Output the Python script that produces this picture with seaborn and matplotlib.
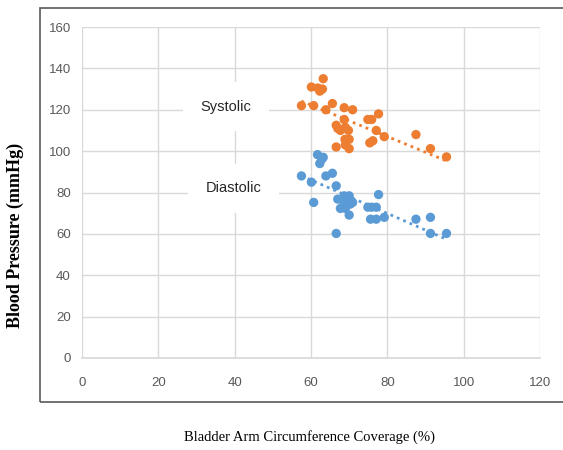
import numpy as np
import pandas as pd
import matplotlib
matplotlib.use("Agg")
import matplotlib.pyplot as plt
import seaborn as sns
from matplotlib.patches import Rectangle

sys_x = [57.5, 60.1, 60.7, 61.8, 62.3, 63.0, 63.2, 63.9, 65.6, 66.6, 67.0, 66.6, 67.7, 68.7, 68.7,
         69.0, 68.9, 69.0, 69.8, 70.0, 70.0, 70.9, 74.9, 75.9, 75.4, 76.2, 77.1, 77.7, 79.2, 87.5, 91.3, 95.5]
sys_y = [122, 131, 122, 130.5, 129, 130, 135, 120, 123, 112.5, 111, 102, 110, 121, 115.3,
         111.5, 105.7, 103, 110, 105.7, 101.2, 120, 115.3, 115.3, 104, 105, 110, 118, 107, 108, 101.2, 97.2]
dia_x = [57.5, 60.1, 60.7, 61.7, 62.3, 62.8, 63.2, 63.9, 65.6, 66.6, 66.6, 67.0, 67.7, 68.7, 68.7,
         69.0, 69.4, 70.0, 70.0, 70.3, 70.9, 74.9, 75.9, 75.6, 77.1, 77.1, 77.7, 79.2, 87.5, 91.3, 91.3, 95.5]
dia_y = [88, 85, 75.2, 98.3, 94, 96, 97, 88, 89.3, 83.2, 60.2, 76.8, 72.3, 78.4, 74.9,
         72.3, 76.8, 78.4, 69.1, 74.4, 75.2, 72.9, 72.9, 67.1, 72.9, 67.1, 79, 68, 67.1, 68, 60.2, 60.2]

x_ticks = [0, 20, 40, 60, 80, 100, 120]
y_ticks = [0, 20, 40, 60, 80, 100, 120, 140, 160]

ORANGE = "#ED7D31"
BLUE = "#5B9BD5"

sns.set_theme(style="white")
plt.rcParams['font.family'] = ['Liberation Sans', 'DejaVu Sans']

fig = plt.figure(figsize=(5.63, 4.5), dpi=100)
ax = fig.add_axes([82/563, 1-358/450, (540-82)/563, (358-27)/450])

df_s = pd.DataFrame({"x": sys_x, "y": sys_y})
df_d = pd.DataFrame({"x": dia_x, "y": dia_y})

for df, c in [(df_s, ORANGE), (df_d, BLUE)]:
    sns.regplot(data=df, x="x", y="y", ax=ax, ci=None, truncate=True,
                scatter_kws=dict(color=c, s=45, edgecolor="none", alpha=1, zorder=3),
                line_kws=dict(color=c, linestyle=(0, (1, 1.5)), linewidth=2, zorder=2))

ax.set_xlim(0, 120)
ax.set_ylim(0, 160)
ax.set_xticks(x_ticks)
ax.set_yticks(y_ticks)
ax.tick_params(axis="both", length=0, labelsize=9.5, labelcolor="#595959")
ax.tick_params(axis="x", pad=14)
ax.tick_params(axis="y", pad=8)
ax.grid(True, color="#D9D9D9", linewidth=1)
ax.set_axisbelow(True)
for s in ["top", "right", "left"]:
    ax.spines[s].set_visible(False)
ax.spines["bottom"].set_color("#D9D9D9")
ax.set_xlabel("")
ax.set_ylabel("")

ax.text(37.8, 121.4, "Systolic", ha="center", va="center", fontsize=10.5, color="#262626",
        bbox=dict(facecolor="white", edgecolor="none", boxstyle="square,pad=1.2"), zorder=4)
ax.text(39.7, 82.1, "Diastolic", ha="center", va="center", fontsize=10.5, color="#262626",
        bbox=dict(facecolor="white", edgecolor="none", boxstyle="square,pad=1.2"), zorder=4)

fig.text(15/563, 1-235/450, "Blood Pressure (mmHg)", rotation=90, ha="center", va="center",
         fontsize=13, fontweight="bold", family=["Liberation Serif"], color="#000000")
fig.text(310/563, 1-437/450, "Bladder Arm Circumference Coverage (%)", ha="center", va="center",
         fontsize=10.5, family=["Liberation Serif"], color="#000000")

fig.patches.append(Rectangle((40/563, 1-402/450), 1.0, (402-8)/450, transform=fig.transFigure,
                             fill=False, edgecolor="#595959", linewidth=1.2))

fig.savefig("out.png", dpi=100)
